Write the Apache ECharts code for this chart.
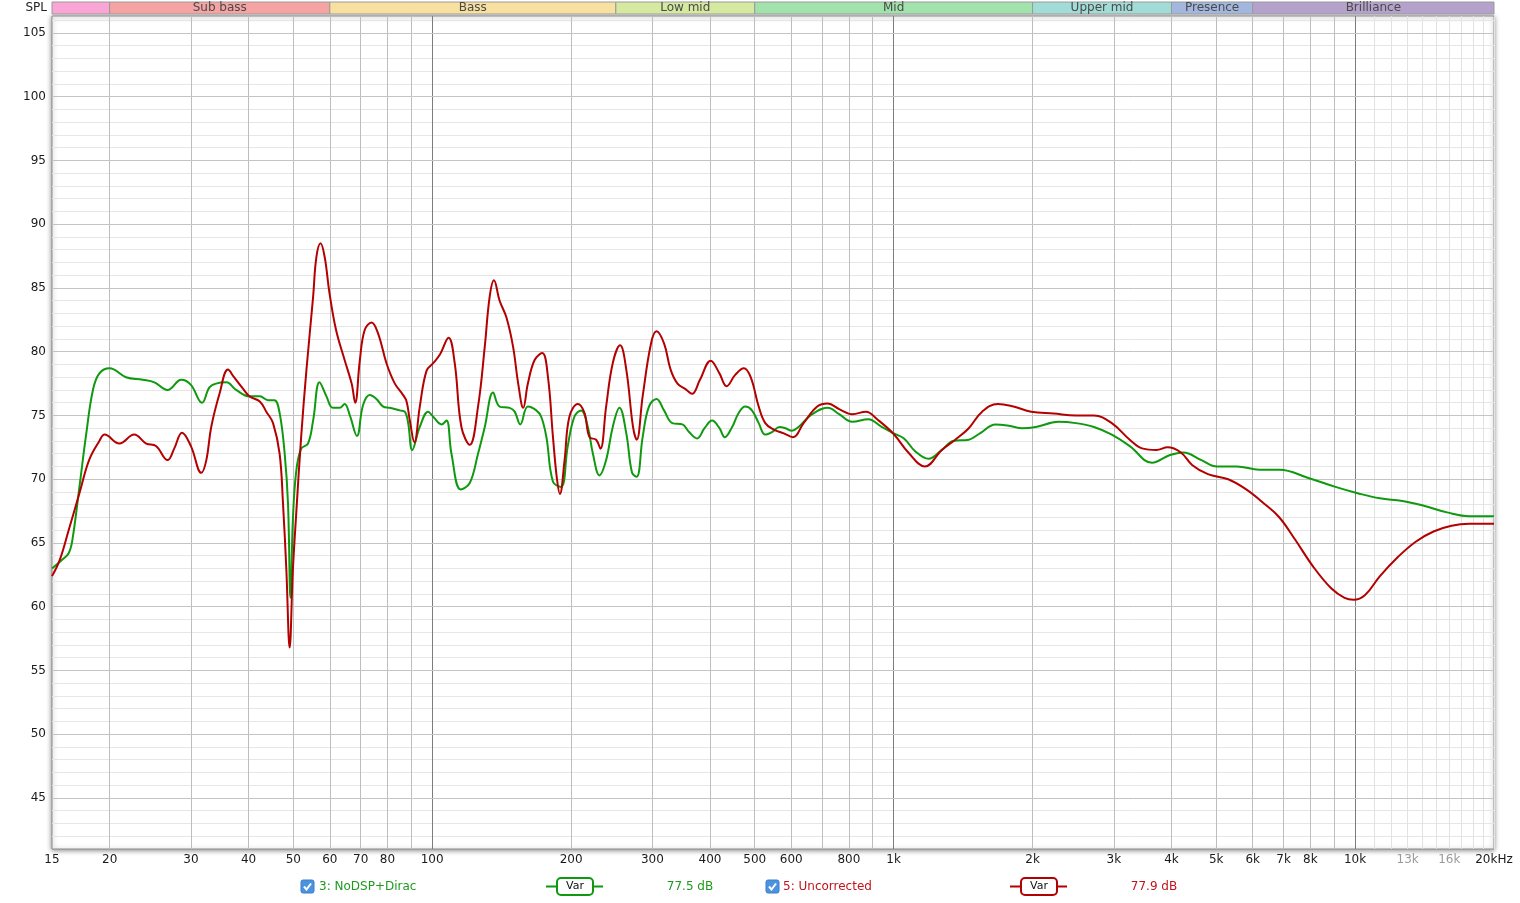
<!DOCTYPE html>
<html><head><meta charset="utf-8">
<script src="https://cdn.jsdelivr.net/npm/echarts@6/dist/echarts.min.js"></script>
<style>html,body{margin:0;padding:0;background:#fff}#c{width:1520px;height:903px}</style>
</head><body><div id="c"></div>
<script>
// ---- data ----
const greenFreq = [15,15.8,16.3,16.6,17.2,17.8,18.4,19.0,20.0,21.7,23.6,25.0,26.7,28.6,30.0,31.7,32.9,34.0,35.8,37.6,40.2,42.3,44.1,45.5,46.7,47.9,48.7,49.3,49.9,50.7,52.0,53.8,55.2,57.0,59.0,60.9,63.0,64.6,66.3,68.7,70.8,73.2,75.7,78.3,80.9,85.1,87.2,88.7,90.5,94,98,100.5,104.8,107.4,110.1,115.3,120.6,125.7,130,135.5,140,147.2,150.9,155.2,161.2,168.1,172.3,176.8,182.7,190.2,196.7,203.3,210.3,217.4,223,230.4,238.2,246.2,254.6,263.4,271.1,277.5,285.8,294.9,306.3,318,331.4,348.5,360.4,375,389.2,404.2,419.3,430.6,446.7,461.5,476.9,493,510,527,545,566,583,602,622,666,720,762,814,881,942,1000,1053,1113,1190,1272,1346,1455,1538,1663,1777,1901,2033,2274,2483,2717,2970,3248,3630,3971,4244,4645,5021,5545,6202,6855,7920,9067,10130,11320,12660,14150,15820,17680,20000];
const greenDb = [63.0,63.7,64.2,65.2,69.4,73.6,77.0,78.3,78.7,78.0,77.8,77.6,77.0,77.8,77.4,76.0,77.2,77.5,77.6,77.0,76.5,76.5,76.2,76.2,75.2,72.0,68.1,60.7,66.8,70.5,72.4,72.8,74.6,77.6,76.5,75.6,75.6,75.9,75.0,73.4,75.8,76.6,76.3,75.7,75.6,75.4,75.3,74.4,72.3,74.1,75.3,74.9,74.3,74.6,72.0,69.2,69.7,72.0,74.1,76.8,75.7,75.6,75.3,74.3,75.7,75.4,74.9,73.3,69.8,69.4,72.6,74.9,75.4,74.1,72.0,70.3,71.5,74.1,75.6,73.6,70.5,70.2,73.3,75.7,76.3,75.4,74.4,74.3,73.7,73.2,74.0,74.6,74.0,73.3,74.1,75.2,75.7,75.4,74.4,73.5,73.7,74.1,74.0,73.8,74.1,75.1,75.6,75.1,74.5,74.7,74.1,73.6,73.2,72.2,71.6,72.3,73.0,73.1,73.6,74.3,74.2,74.0,74.1,74.5,74.4,74.1,73.5,72.6,71.3,71.9,72.1,71.5,71.0,71.0,70.75,70.75,70.1,69.4,68.9,68.5,68.3,67.9,67.4,67.1,67.1];
const redFreq = [15,15.6,16.3,17.2,18.05,19.0,19.5,21.0,22.6,24.0,25.2,26.7,27.6,28.7,30.0,31.6,32.4,33.2,34.6,36.1,37.2,38.9,40.2,42.3,43.7,45.2,46.7,47.5,48.3,49.1,49.9,50.8,52.0,53.4,55.2,56.1,57.3,58.5,59.9,61.9,64.6,66.9,68.1,69.7,71.4,73.9,76.4,79.6,83.0,86.5,88.0,89.4,91.5,94.0,97.2,100.5,104,108.5,111.9,115.7,120.6,125.7,130,133.2,136.1,140,144.8,149.7,153.6,157.5,161.2,166.7,173.2,178.2,182.7,186.4,189.1,193.6,198.3,206.8,213.8,219.2,226.6,231.5,238.2,246.2,255.4,263.4,272.4,277.5,285.8,298,306.3,318,328.6,340.1,354.5,365.7,380.4,401.4,419.3,434.5,454,473.5,490,510,527,550,578,605,638,683,720,762,814,871,921,1000,1076,1169,1272,1360,1455,1555,1682,1818,1987,2222,2483,2717,2970,3248,3470,3710,3924,4192,4440,4797,5310,5808,6345,6855,7418,8112,8875,9489,9931,10500,11320,12380,13530,14790,16180,17680,20000];
const redDb = [62.4,63.7,66.0,68.9,71.5,73.0,73.5,72.8,73.5,72.8,72.6,71.5,72.4,73.65,72.6,70.5,71.5,74.1,76.7,78.6,78.0,77.1,76.5,76.1,75.3,74.4,72.0,68.1,62.9,56.8,62.9,67.6,73.3,78.6,84.3,87.4,88.5,87.4,84.6,81.7,79.35,77.5,76.0,79.35,81.7,82.3,81.4,79.1,77.5,76.6,76.1,74.65,72.9,75.7,78.5,79.1,79.8,81.1,79.1,74.1,72.7,75.7,80.4,84.3,85.6,84.0,82.7,80.4,77.5,75.6,77.5,79.35,79.9,78.0,73.3,70.0,68.85,71.5,74.9,75.9,75.2,73.3,73.1,72.4,75.7,79.1,80.5,78.6,74.1,73.1,76.5,80.65,81.6,80.65,78.6,77.5,77.05,76.7,77.8,79.3,78.3,77.3,78.2,78.7,78.0,75.7,74.4,73.9,73.6,73.3,74.4,75.7,75.94,75.5,75.1,75.3,74.7,73.55,72.1,71.0,72.3,73.1,74.0,75.3,75.9,75.7,75.3,75.15,75.0,75.0,74.4,73.1,72.4,72.3,72.5,72.1,71.1,70.4,70.0,69.2,68.1,67.0,65.25,63.15,61.45,60.7,60.55,60.9,62.4,63.9,65.1,65.9,66.35,66.5,66.5];
const xTickValues = [15,20,30,40,50,60,70,80,100,200,300,400,500,600,800,1000,2000,3000,4000,5000,6000,7000,8000,10000,13000,16000,20000];
const xTickLabels = ['15','20','30','40','50','60','70','80','100','200','300','400','500','600','800','1k','2k','3k','4k','5k','6k','7k','8k','10k','13k','16k','20kHz'];
const xTickDim = ['13k','16k'];
const yTickValues = [45,50,55,60,65,70,75,80,85,90,95,100,105];
const bandNames = ['', 'Sub bass', 'Bass', 'Low mid', 'Mid', 'Upper mid', 'Presence', 'Brilliance'];
const bandEdges = [15,20,60,250,500,2000,4000,6000,20000];
const seriesNames = ['3: NoDSP+Dirac', '5: Uncorrected'];
const seriesLevels = ['77.5 dB', '77.9 dB'];

// ---- styles ----
const bandColors = ['#f9a6d6','#f6a3a3','#f8e0a0','#d6e9a0','#a2e2ac','#a2dcd6','#a3b7de','#b5a2cc'];
const GREEN = '#0f990f', RED = '#b30000';
const GTEXT = '#1e9a1e', RTEXT = '#c2141c';
const FONT = 'DejaVu Sans';

const zip = (a, b) => a.map((v, i) => [v, b[i]]);

// grid lines
const vLines = [];
for (let d = 10; d <= 10000; d *= 10) {
  for (let m = 1; m <= 9; m++) {
    const f = d * m;
    if (f <= 15 || f > 20000) continue;
    let color = '#bdbdbd';
    if (m === 1 && f >= 100) color = '#7c7c7c';
    if (f > 10000) color = '#e2e2e2';
    vLines.push({ xAxis: f, lineStyle: { color, width: 1, type: 'solid' } });
  }
}
for (let f = 11000; f < 20000; f += 1000) vLines.push({ xAxis: f, lineStyle: { color: '#e2e2e2', width: 1, type: 'solid' } });
const hMinor = [], hMajor = [];
for (let v = 42; v <= 106; v++) {
  if (v % 5 === 0) hMajor.push({ yAxis: v, lineStyle: { color: '#c4c4c4', width: 1, type: 'solid' } });
  else hMinor.push({ yAxis: v, lineStyle: { color: '#e6e6e6', width: 1, type: 'solid' } });
}

const bandAreas = bandNames.map((n, i) => [
  { name: n, xAxis: bandEdges[i], itemStyle: { color: bandColors[i], borderColor: '#9a9a9a', borderWidth: 1 } },
  { xAxis: bandEdges[i + 1] }
]);

const chart = echarts.init(document.getElementById('c'), null, { renderer: 'canvas' });

function checkbox(x, y) {
  return [
    { type: 'rect', shape: { x, y, width: 13, height: 13, r: 2 }, style: { fill: '#4b93e0', stroke: '#3a7fcc', lineWidth: 1 }, z: 10 },
    { type: 'polyline', shape: { points: [[x + 3, y + 6.5], [x + 5.5, y + 9.5], [x + 10, y + 3.5]] }, style: { stroke: '#fff', lineWidth: 2, fill: null }, z: 11 }
  ];
}
function varBox(x1, x2, bx, color) {
  return [
    { type: 'line', shape: { x1, y1: 886.5, x2, y2: 886.5 }, style: { stroke: color, lineWidth: 2 }, z: 10 },
    { type: 'rect', shape: { x: bx, y: 878, width: 36, height: 17, r: 4 }, style: { fill: '#fff', stroke: color, lineWidth: 2 }, z: 11 },
    { type: 'text', x: bx + 18, y: 886.5, style: { text: 'Var', fill: '#111', font: '11px "DejaVu Sans"', align: 'center', verticalAlign: 'middle' }, z: 12 }
  ];
}

const graphics = [
  { type: 'text', x: 47, y: 8, style: { text: 'SPL', fill: '#222', font: '12px "DejaVu Sans"', align: 'right', verticalAlign: 'middle' } },
  ...checkbox(301, 880),
  { type: 'text', x: 319, y: 887, style: { text: seriesNames[0], fill: GTEXT, font: '12px "DejaVu Sans"', align: 'left', verticalAlign: 'middle' } },
  ...varBox(546, 603, 557, GREEN),
  { type: 'text', x: 690, y: 887, style: { text: seriesLevels[0], fill: GTEXT, font: '12px "DejaVu Sans"', align: 'center', verticalAlign: 'middle' } },
  ...checkbox(766, 880),
  { type: 'text', x: 783, y: 887, style: { text: seriesNames[1], fill: RTEXT, font: '12px "DejaVu Sans"', align: 'left', verticalAlign: 'middle' } },
  ...varBox(1010, 1067, 1021, RED),
  { type: 'text', x: 1154, y: 887, style: { text: seriesLevels[1], fill: RTEXT, font: '12px "DejaVu Sans"', align: 'center', verticalAlign: 'middle' } }
];

const option = {
  animation: false,
  backgroundColor: '#ffffff',
  textStyle: { fontFamily: FONT },
  grid: [
    { left: 52, right: 26, top: 16, bottom: 54, show: true, backgroundColor: '#fff', borderColor: '#8c8c8c', borderWidth: 1,
      shadowBlur: 5, shadowColor: 'rgba(0,0,0,0.45)', shadowOffsetX: 0, shadowOffsetY: 1 },
    { left: 52, right: 26, top: 2, height: 12, show: false }
  ],
  xAxis: [
    { type: 'log', logBase: 10, min: 15, max: 20000, gridIndex: 0,
      axisLine: { show: false }, axisTick: { show: false }, axisLabel: { show: false }, splitLine: { show: false }, minorSplitLine: { show: false } },
    { type: 'log', logBase: 10, min: 15, max: 20000, gridIndex: 1,
      axisLine: { show: false }, axisTick: { show: false }, axisLabel: { show: false }, splitLine: { show: false } }
  ],
  yAxis: [
    { type: 'value', min: 41, max: 106.33, gridIndex: 0,
      axisLine: { show: false }, axisTick: { show: false }, splitLine: { show: false },
      axisLabel: { customValues: yTickValues, color: '#1a1a1a', fontSize: 12, fontFamily: FONT, margin: 6 } },
    { type: 'value', min: 0, max: 1, gridIndex: 1, show: false }
  ],
  graphic: graphics,
  series: [
    { name: 'gridMinor', type: 'line', data: [], silent: true, z: 1,
      markLine: { silent: true, symbol: ['none', 'none'], animation: false, label: { show: false }, data: hMinor } },
    { name: 'gridV', type: 'line', data: [], silent: true, z: 1,
      markLine: { silent: true, symbol: ['none', 'none'], animation: false, label: { show: false }, data: vLines } },
    { name: 'gridMajor', type: 'line', data: [], silent: true, z: 1,
      markLine: { silent: true, symbol: ['none', 'none'], animation: false, label: { show: false }, data: hMajor } },
    { name: 'bands', type: 'line', data: [], xAxisIndex: 1, yAxisIndex: 1, silent: true,
      markArea: { silent: true, label: { show: true, position: 'inside', color: '#4a4a4a', fontSize: 12, fontFamily: FONT }, data: bandAreas } },
    { name: seriesNames[0], type: 'line', data: zip(greenFreq, greenDb), smooth: 0.4, symbol: 'none', z: 5,
      lineStyle: { color: GREEN, width: 2 } },
    { name: seriesNames[1], type: 'line', data: zip(redFreq, redDb), smooth: 0.4, symbol: 'none', z: 6,
      lineStyle: { color: RED, width: 2 } }
  ]
};
chart.setOption(option);

// x tick labels positioned through the log axis scale
const labelY = chart.convertToPixel({ gridIndex: 0 }, [15, 41])[1] + 11;
const xLabelGraphics = xTickValues.map((v, i) => ({
  type: 'text',
  x: chart.convertToPixel({ xAxisIndex: 0 }, v),
  y: labelY,
  style: {
    text: xTickLabels[i],
    fill: xTickDim.includes(xTickLabels[i]) ? '#9a9a9a' : '#1a1a1a',
    font: '12px "DejaVu Sans"', align: 'center', verticalAlign: 'middle'
  }
}));
chart.setOption({ graphic: graphics.concat(xLabelGraphics) });
</script>
</body></html>
